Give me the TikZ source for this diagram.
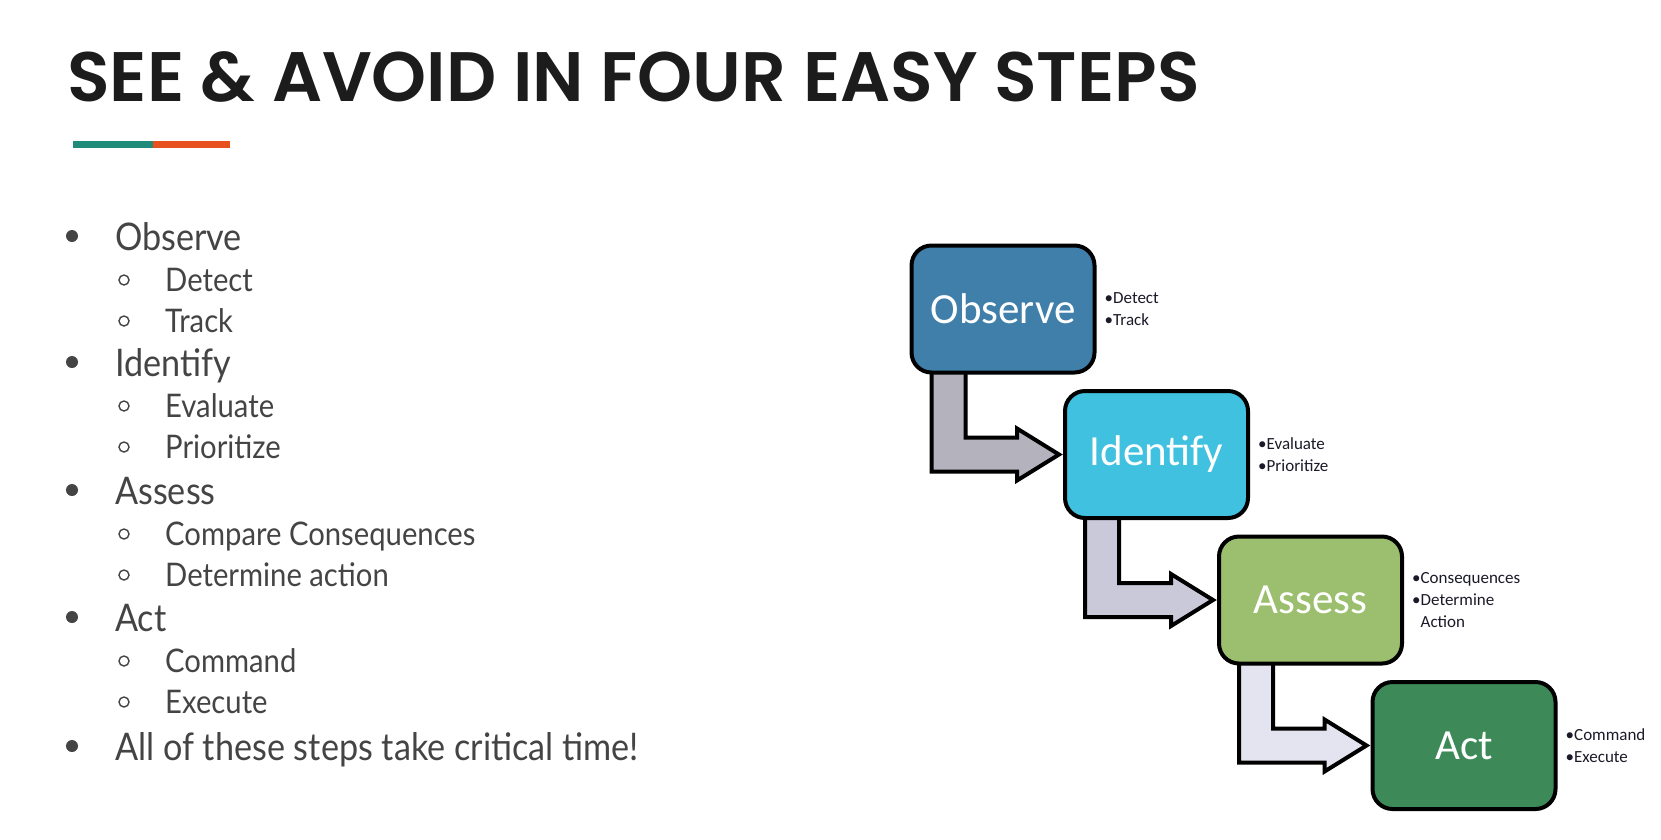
\documentclass[tikz,border=0pt]{standalone}
\usepackage{fontspec}
\setmainfont{Lato}[FakeStretch=0.9]
\newfontfamily\headfont{Poppins}[BoldFont=* SemiBold]
\newfontfamily\boxfont{Carlito}
\usetikzlibrary{backgrounds,calc}

\definecolor{titleink}{HTML}{1C1C1C}
\definecolor{listink}{HTML}{444444}
\definecolor{barteal}{HTML}{1E8C78}
\definecolor{barorange}{HTML}{E8501E}
\definecolor{obsfill}{HTML}{3F7FAA}
\definecolor{idfill}{HTML}{41C1E0}
\definecolor{assfill}{HTML}{9BBF6E}
\definecolor{actfill}{HTML}{3D8A58}
\definecolor{flowA}{HTML}{B4B2BC}
\definecolor{flowB}{HTML}{C9C9D9}
\definecolor{flowC}{HTML}{E4E4F0}
\definecolor{noteink}{HTML}{1A1A28}

\tikzset{
  mainitem/.style={anchor=base west, inner sep=0pt, text=listink,
    font=\fontsize{38}{44}\selectfont},
  subitem/.style={anchor=base west, inner sep=0pt, text=listink,
    font=\fontsize{32.5}{38}\selectfont},
  stepbox/.style={draw=black, line width=4pt, rounded corners=20pt,
    minimum width=183pt, minimum height=127pt, inner sep=0pt,
    text=white, font=\boxfont\fontsize{43}{50}\selectfont},
  stepnote/.style={anchor=west, inner sep=0pt, align=left, text=noteink,
    font=\boxfont\fontsize{17}{22}\selectfont},
  flowarrow/.style={draw=black, line width=4pt, line join=miter}
}

% L-shaped block arrow from the bottom of one step to the left side of the next
\newcommand\stepflow[3]{%
  \begin{pgfonlayer}{background}
    \draw[flowarrow, fill=#3] let \p1=(#1.south west), \p2=(#2.west) in
      (\x1+22pt, \y1+12pt) -- (\x1+22pt, \y2-17pt) -- (\x2-46pt, \y2-17pt)
      -- (\x2-46pt, \y2-26pt) -- (\x2-4pt, \y2) -- (\x2-46pt, \y2+26pt)
      -- (\x2-46pt, \y2+17pt) -- (\x1+56pt, \y2+17pt) -- (\x1+56pt, \y1+12pt)
      -- cycle;
  \end{pgfonlayer}}

\begin{document}
\begin{tikzpicture}[x=1pt, y=-1pt]
  \useasboundingbox (0,0) rectangle (1661,839);

  % heading and its two-colour rule
  \node[anchor=base west, inner sep=0pt, text=titleink,
        font=\headfont\bfseries\fontsize{70}{80}\selectfont]
        (title) at (67,101) {SEE \& AVOID IN FOUR EASY STEPS};
  \fill[barteal] (73,141) rectangle (153,148);
  \fill[barorange] (153,141) rectangle (230,148);

  % bulleted list
  \foreach \y/\txt [count=\i] in {250/Observe, 376/Identify, 504/Assess,
      631/Act, 760/All of these steps take critical time!} {
    \fill[listink] (72,\y-14) circle (6pt);
    \node[mainitem] (main\i) at (115,\y) {\txt};
  }
  \foreach \y/\txt [count=\i] in {291/Detect, 332/Track, 417/Evaluate,
      458/Prioritize, 545/Compare Consequences, 586/Determine action,
      672/Command, 713/Execute} {
    \draw[listink, line width=1.4pt] (124,\y-11) circle (5pt);
    \node[subitem] (sub\i) at (165,\y) {\txt};
  }

  % step boxes
  \node[stepbox, fill=obsfill] (observe)  at (1003,309)   {Observe};
  \node[stepbox, fill=idfill]  (identify) at (1156.5,454.5) {Identify};
  \node[stepbox, fill=assfill] (assess)   at (1310.5,600) {Assess};
  \node[stepbox, fill=actfill] (act)      at (1464,745.5) {Act};

  % notes beside each box
  \node[stepnote] (nobs) at ([xshift=8pt]observe.east)
    {\textbullet Detect\\\textbullet Track};
  \node[stepnote] (nid) at ([xshift=8pt]identify.east)
    {\textbullet Evaluate\\\textbullet Prioritize};
  \node[stepnote] (nass) at ([xshift=8pt]assess.east)
    {\textbullet Consequences\\\textbullet Determine\\\phantom{\textbullet}Action};
  \node[stepnote] (nact) at ([xshift=8pt]act.east)
    {\textbullet Command\\\textbullet Execute};

  % connecting arrows
  \stepflow{observe}{identify}{flowA}
  \stepflow{identify}{assess}{flowB}
  \stepflow{assess}{act}{flowC}
\end{tikzpicture}
\end{document}
